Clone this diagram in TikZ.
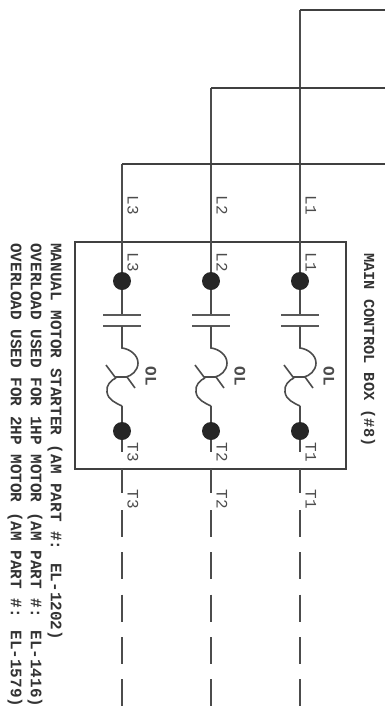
\documentclass[tikz,border=0pt]{standalone}
\usepackage{fontspec}
\setmainfont{Liberation Mono}
\usetikzlibrary{calc}
\tikzset{
	wire/.style={line width=1.2pt, color=black!70},
	feed/.style={line width=1pt, color=black!75},
	plate/.style={line width=1pt, color=black!65},
	termdot/.style={circle, fill=black!85, inner sep=0pt, minimum size=13.5pt},
	tag/.style={rotate=-90, inner sep=0pt, font=\fontsize{12}{12}\selectfont, color=black!70},
	note/.style={rotate=-90, anchor=west, inner sep=0pt, font=\fontsize{12}{12}\selectfont\bfseries, color=black!80},
}
% one phase: name, x of the wire, y of the feed
\def\phaseleg(#1)(#2,#3){
	\coordinate (feed#1) at (#2, #3);
	\node[termdot] (in#1) at (#2, 281) {};
	\node[termdot] (out#1) at (#2, 431) {};
	\coordinate (capa#1) at (#2, 315);
	\coordinate (capb#1) at (#2, 326);
	\coordinate (olin#1) at (#2, 348);
	\coordinate (olout#1) at (#2, 406);
	\coordinate (load#1) at (#2, 452);
	\coordinate (exit#1) at (#2, 469);
	\coordinate (stub#1) at (#2, 493);
	\coordinate (dash#1) at (#2, 510);
	\coordinate (end#1) at (#2, 708);
	\draw[wire] (feed#1) -- (in#1) -- (capa#1);
	\draw[plate] ($(capa#1)+(-19,0)$) -- ($(capa#1)+(19,0)$);
	\draw[plate] ($(capb#1)+(-19,0)$) -- ($(capb#1)+(19,0)$);
	\draw[wire] (capb#1) -- (olin#1) .. controls (#2+8, 349) and (#2+16, 355) .. (#2+16, 363) .. controls (#2+16, 371) and (#2+9, 376) .. (#2+4, 377);
	\draw[wire] (#2-6, 378) .. controls (#2-11, 380) and (#2-16, 385) .. (#2-15, 392) .. controls (#2-14, 400) and (#2-6, 403) .. (olout#1);
	\draw[wire] (#2-16, 365) -- (#2-7, 377) -- (#2+5, 377) -- (#2+13, 388);
	\draw[wire] (olout#1) -- (out#1) -- (load#1);
	\draw[wire] (exit#1) -- (stub#1);
	\draw[wire, dash pattern=on 20.25pt off 11.5pt] (dash#1) -- (end#1);
	\node[tag] (tagtop#1) at (#2+11, 205) {L#1};
	\node[tag] (taga#1) at (#2+11, 262) {L#1};
	\node[tag] (tagb#1) at (#2+11, 452) {T#1};
	\node[tag] (tagc#1) at (#2+11, 499) {T#1};
	\node[tag, font=\fontsize{12}{12}\selectfont\bfseries] (tagol#1) at (#2+29, 376) {OL};
}

\begin{document}
\begin{tikzpicture}[x=0.75pt, y=-0.75pt]
		\useasboundingbox (0, 0) rectangle (385, 719);
		
		\draw[line width=1.2pt, color=black!75] (75, 242) rectangle (346, 469);
		
		\phaseleg(1)(300,10)
		\phaseleg(2)(211,88)
		\phaseleg(3)(122,164)
		
		\coordinate (right1) at (385, 10);
		\coordinate (right2) at (385, 88);
		\coordinate (right3) at (385, 164);
		\draw[feed] (feed1) -- (right1);
		\draw[feed] (feed2) -- (right2);
		\draw[feed] (feed3) -- (right3);
		
		\node[note] (title) at (368, 253) {\fontsize{11.5}{11.5}\selectfont MAIN CONTROL BOX (\#8)};
		\node[note] (noteone) at (55, 243) {MANUAL MOTOR STARTER (AM PART \#: EL-1202)};
		\node[note] (notetwo) at (35, 243) {OVERLOAD USED FOR 1HP MOTOR (AM PART \#: EL-1416)};
		\node[note] (notethree) at (15, 243) {OVERLOAD USED FOR 2HP MOTOR (AM PART \#: EL-1579)};
\end{tikzpicture}
\end{document}
